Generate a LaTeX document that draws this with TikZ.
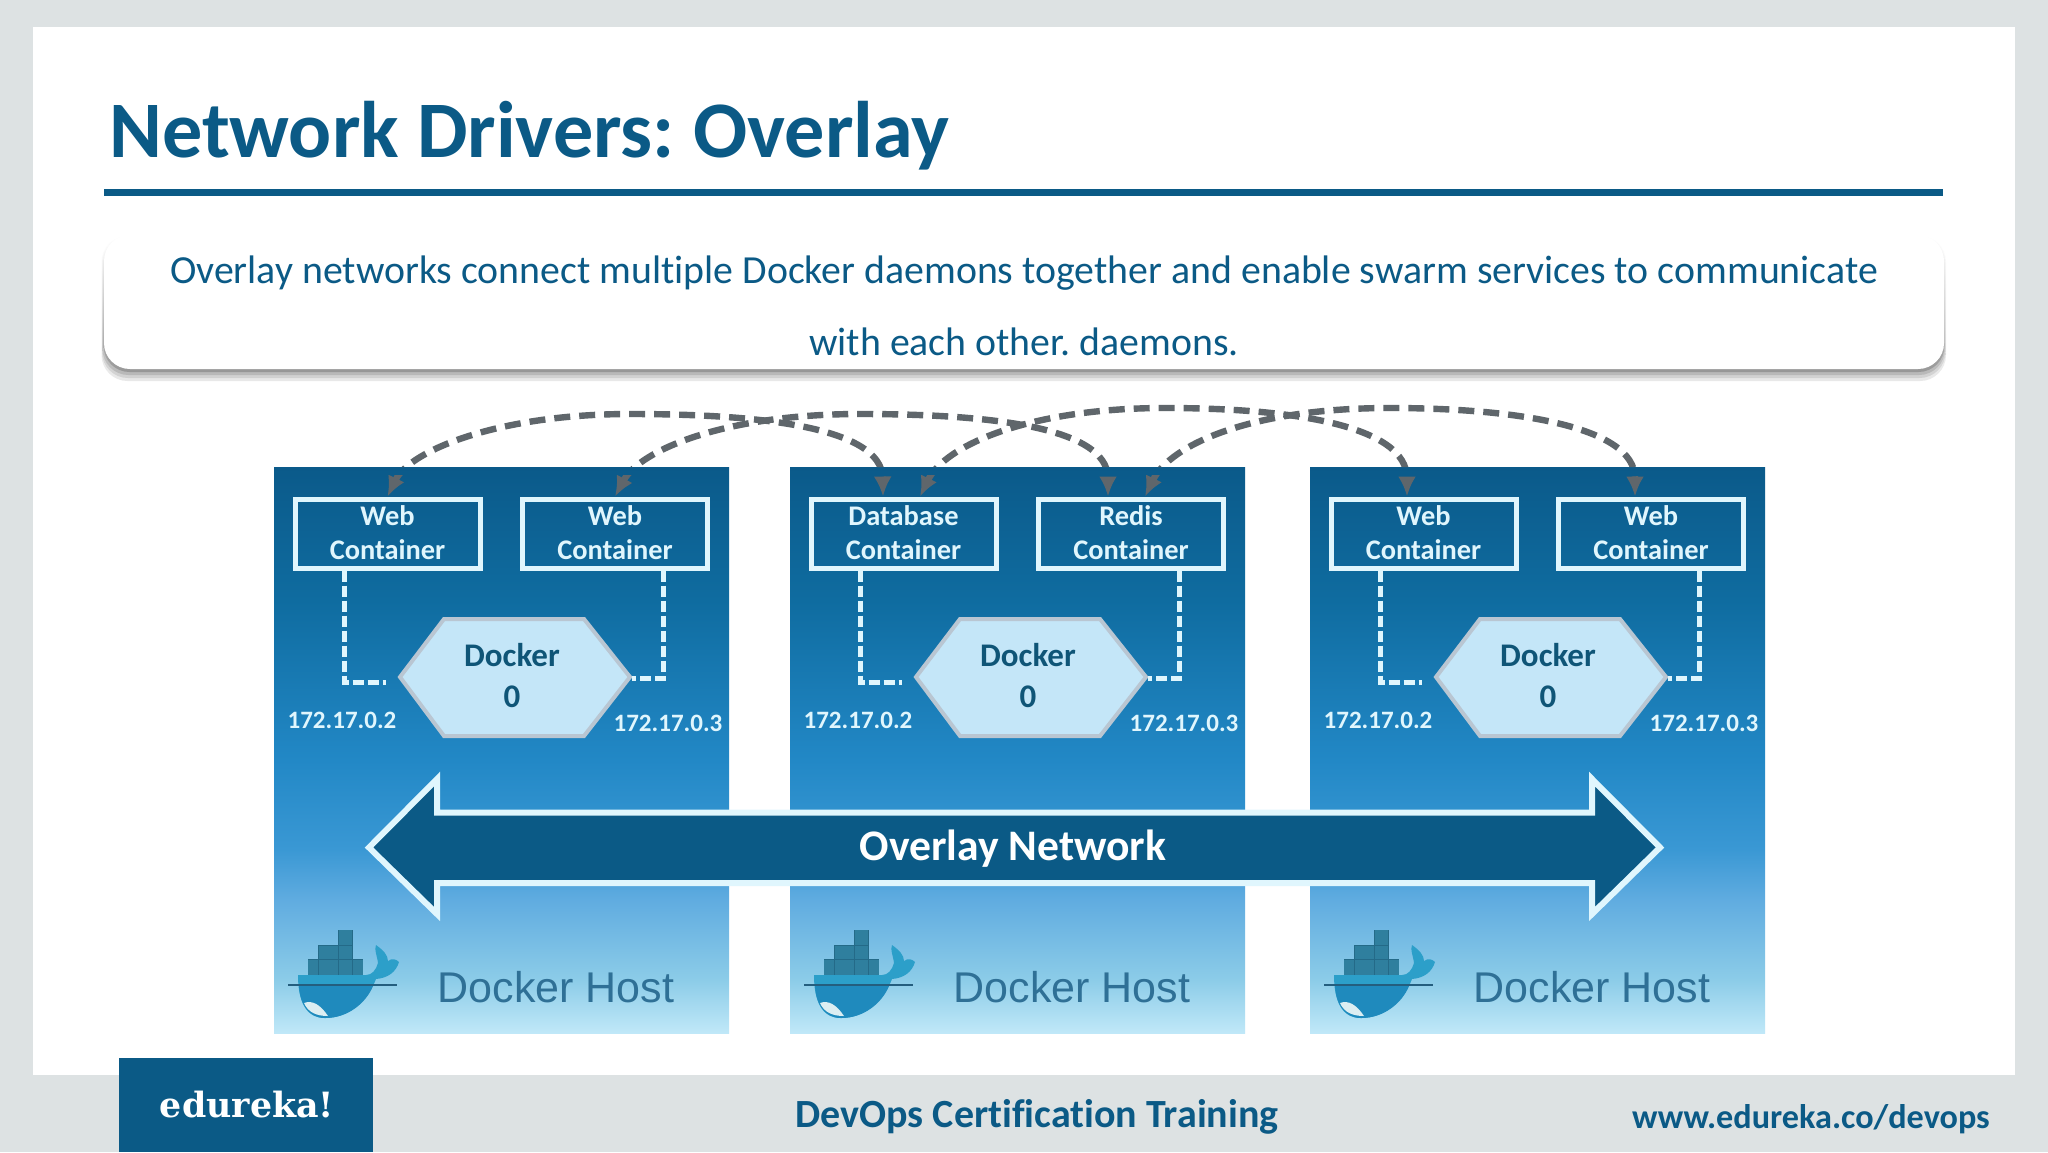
\documentclass[tikz,border=0pt]{standalone}
\usepackage{fontspec}
\setmainfont[Ligatures=NoCommon]{Carlito}
\newfontfamily\hostfont{Liberation Sans}
\newfontfamily\logofont{DejaVu Serif}
\usetikzlibrary{arrows.meta,calc}
\definecolor{slidebg}{HTML}{DDE2E3}
\definecolor{brand}{HTML}{0B5A86}
\definecolor{ice}{HTML}{E0F6FD}
\definecolor{hexfill}{HTML}{C4E6F8}
\definecolor{hexedge}{HTML}{B9C6D2}
\definecolor{hextext}{HTML}{0F5577}
\definecolor{wire}{HTML}{5F666B}
\definecolor{hosttext}{HTML}{2F7096}
\definecolor{crate}{HTML}{2F7F9E}
\definecolor{crateline}{HTML}{246A88}
\definecolor{hullup}{HTML}{2C9FC9}
\definecolor{hulllow}{HTML}{1F8ABD}
\definecolor{waterline}{HTML}{245E7E}
\definecolor{belly}{HTML}{DCEEF2}
\definecolor{gA}{HTML}{C0E8F8}
\definecolor{gB}{HTML}{8CCCE8}
\definecolor{gC}{HTML}{60ACE0}
\definecolor{gD}{HTML}{3A98D4}
\definecolor{gE}{HTML}{2288C6}
\definecolor{gF}{HTML}{0F6CA0}
\definecolor{gG}{HTML}{0B5A8A}
\pgfdeclareverticalshading{hostshade}{100bp}{
 color(0bp)=(gA);
 color(25bp)=(gA);
 color(29.7bp)=(gB);
 color(36.75bp)=(gC);
 color(41.2bp)=(gD);
 color(49.1bp)=(gE);
 color(63.2bp)=(gF);
 color(75bp)=(gG);
 color(100bp)=(gG)}
\tikzset{
 x=0.5pt,y=-0.5pt,
 hostbox/.style={shading=hostshade,draw=none,minimum width=227.5pt,minimum height=283pt,inner sep=0pt},
 ctbox/.style={draw=ice,line width=2.5pt,minimum width=92.5pt,minimum height=34.5pt,inner sep=0pt,align=center,text=ice,font=\fontsize{14.2}{17}\selectfont\bfseries},
 hexshape/.style={draw=hexedge,fill=hexfill,line width=2pt,line join=miter},
 hextag/.style={inner sep=0pt,align=center,text=hextext,font=\fontsize{16.5}{19.5}\selectfont\bfseries},
 hexbox/.style={minimum width=117pt,minimum height=60pt,inner sep=0pt},
 iplabel/.style={text=ice,inner sep=0pt,font=\fontsize{12.5}{15}\selectfont\bfseries},
 hostlabel/.style={text=hosttext,inner sep=0pt,anchor=base,font=\hostfont\fontsize{21.5}{26}\selectfont},
 link/.style={draw=ice,line width=2.5pt,dash pattern=on 5.5pt off 2pt},
 wirelink/.style={draw=wire,line width=3.2pt,dash pattern=on 8pt off 4.5pt,{Latex[length=10pt,width=9pt]}-{Latex[length=10pt,width=9pt]}},
}
\begin{document}
\frenchspacing
\begin{tikzpicture}
\useasboundingbox (0,0) rectangle (2048,1152);
\fill[slidebg] (0,0) rectangle (2048,1152);
\fill[white] (33,27) rectangle (2015,1075);
\node[inner sep=0pt,anchor=base west,text=brand,font=\fontsize{40.1}{48}\selectfont\bfseries] (title) at (109,157) {Network Drivers: Overlay};
\fill[brand] (104,189) rectangle (1943,196);
% callout shadow
\foreach \l/\r/\b/\c in {101.5/1946/381/9,102/1945.5/378/18,102.5/1945/375/28,103.5/1944.5/372/41}{
 \shade[top color=white,bottom color=black!\c,rounded corners=13pt] (\l,236) rectangle (\r,\b);
}
\node[fill=white,rounded corners=13pt,minimum width=920pt,minimum height=67pt,inner sep=0pt] (callout) at (1024,302) {};
\node[inner sep=0pt,align=center,text=brand,font=\fontsize{19.9}{36}\selectfont] (msg) at (1024,306) {Overlay networks connect multiple Docker daemons together and enable swarm services to communicate\\with each other. daemons.};
% hosts
\foreach \i/\dx/\ta/\tb in {1/0/Web/Web,2/516/Database/Redis,3/1036/Web/Web}{
 \begin{scope}[shift={(\dx,0)}]
 \node[hostbox] (host\i) at (501.5,750) {};
 \node[ctbox] (a\i) at (387.5,533.5) {\raisebox{1pt}{\ta}\\\raisebox{1pt}{Container}};
 \node[ctbox] (b\i) at (615,533.5) {\raisebox{1pt}{\tb}\\\raisebox{1pt}{Container}};
 \draw[hexshape] (400,677) -- (444,619) -- (584,619) -- (630,677) -- (584,736) -- (444,736) -- cycle;
 \node[hexbox] (hex\i) at (514.5,677) {};
 \node[hextag] (tag\i) at (512,676) {Docker\\[1pt]0};
 \draw[link] ([xshift=-21.75pt]a\i.south) |- ([xshift=-5.5pt,yshift=-2.5pt]hex\i.west);
 \draw[link] ([xshift=24pt]b\i.south) |- ([yshift=-0.5pt]hex\i.east);
 \node[iplabel] (ipa\i) at (342,720) {172.17.0.2};
 \node[iplabel] (ipb\i) at (668,723) {172.17.0.3};
 \node[hostlabel] (label\i) at (556,1002) {Docker Host};
 % whale
 \fill[crate] (308,959) rectangle (363,975);
 \fill[crate] (318,945) rectangle (352,959);
 \fill[crate] (338,930) rectangle (352,945);
 \draw[crateline,line width=0.3pt] (308,959) -- (363,959) (318,945) -- (352,945) (338,930) -- (338,975) (318,945) -- (318,975) (352,930) -- (352,975);
 \fill[hullup] (298,975) -- (366,975) .. controls (372,975) and (376,970) .. (378,963) .. controls (377,955) and (374,950) .. (376,945) .. controls (383,950) and (388,955) .. (388,961) .. controls (392,958) and (396,959) .. (399,962) .. controls (396,972) and (388,978) .. (376,979) .. controls (368,1000) and (350,1018) .. (325,1018) .. controls (305,1018) and (298,1000) .. (298,975) -- cycle;
 \fill[hulllow] (299,986) -- (373,986) .. controls (366,1003) and (348,1018) .. (325,1018) .. controls (308,1018) and (300,1003) .. (299,986) -- cycle;
 \fill[belly] (304,1003) .. controls (312,1000) and (320,1004) .. (328,1016) .. controls (316,1016) and (308,1012) .. (304,1003) -- cycle;
 \draw[waterline,line width=1pt] (288,985) -- (397,985);
 \end{scope}
}
% overlay arrow
\draw[fill=brand,draw=ice,line width=3pt,miter limit=6] (369,847.5) -- (437,779) -- (437,812.5) -- (1592,812.5) -- (1592,779) -- (1660,847.5) -- (1592,914) -- (1592,883) -- (437,883) -- (437,914) -- cycle;
\node[inner sep=0pt,text=white,font=\fontsize{21.8}{24}\selectfont\bfseries] (overlay) at (1013,849) {Overlay Network};
% inter-container links
\begin{scope}
 \clip (0,300) rectangle (2048,467) (0,475) rectangle (2048,500);
 \draw[wirelink] (a1.north) .. controls (410,450) and (500,414) .. (630,414) .. controls (750,414) and (882,425) .. ([xshift=-10.25pt]a2.north);
 \draw[wirelink] (b1.north) .. controls (640,450) and (725,414) .. (860,414) .. controls (980,414) and (1108,425) .. ([xshift=-11.5pt]b2.north);
 \draw[wirelink] ([xshift=8.25pt]a2.north) .. controls (945,445) and (1030,408) .. (1165,408) .. controls (1290,408) and (1407,425) .. ([xshift=-8.25pt]a3.north);
 \draw[wirelink] ([xshift=7pt]b2.north) .. controls (1170,445) and (1250,408) .. (1390,408) .. controls (1510,408) and (1635,425) .. ([xshift=-8pt]b3.north);
\end{scope}
% footer
\fill[brand] (119,1058) rectangle (373,1152);
\node[inner sep=0pt,text=white,font=\logofont\bfseries\fontsize{17.4}{20}\selectfont] (logo) at (247,1105) {edureka!};
\node[inner sep=0pt,text=brand,font=\fontsize{20}{24}\selectfont\bfseries] (course) at (1037,1117) {DevOps Certification Training};
\node[inner sep=0pt,text=brand,font=\fontsize{17.1}{22}\selectfont\bfseries] (site) at (1811,1119) {www.edureka.co/devops};
\end{tikzpicture}
\end{document}
